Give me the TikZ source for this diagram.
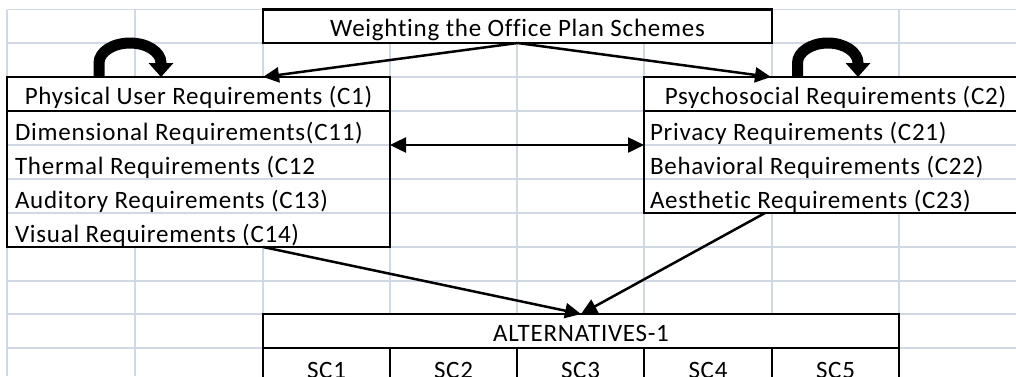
\documentclass[tikz,border=0pt]{standalone}
\usepackage{fontspec}
\setmainfont[LetterSpace=3,Ligatures={NoCommon}]{Carlito}
\usetikzlibrary{arrows.meta}
\definecolor{gridc}{HTML}{D0D7E5}
\begin{document}
\begin{tikzpicture}[x=1pt,y=-1pt,
  gridline/.style={draw=gridc, line width=1.5pt},
  cell/.style={draw=black, line width=2.5pt, fill=white, inner sep=0pt, outer sep=0pt, anchor=north west},
  lbl/.style={font=\fontsize{25}{29}\selectfont, inner sep=0pt, outer sep=0pt, anchor=base},
  lblL/.style={lbl, anchor=base west},
  conn/.style={line width=2.5pt, -{Triangle[length=16pt,width=15pt]}},
  bconn/.style={line width=2.5pt, {Triangle[length=16pt,width=15pt]}-{Triangle[length=16pt,width=15pt]}},
  loopc/.style={line width=11pt, -{Triangle[length=14pt,width=24pt]}}
]
\useasboundingbox (0,0) rectangle (1016,376);
\clip (0,0) rectangle (1016,376);
\fill[white] (0,0) rectangle (1016,376);
% spreadsheet grid
\foreach \x in {7,135,263,390,517,644,772,899} \draw[gridline] (\x,9.5) -- (\x,376);
\foreach \y in {9.5,43,77,111,145,179,213,247,281,314,348} \draw[gridline] (7,\y) -- (1016,\y);
% boxes
\node[cell, minimum width=509pt, minimum height=33.5pt] (W) at (263,9.5) {};
\node[cell, minimum width=383pt, minimum height=34pt] (P1) at (7,77) {};
\node[cell, minimum width=383pt, minimum height=136pt] (P2) at (7,111) {};
\node[cell, minimum width=383pt, minimum height=34pt] (Q1) at (644,77) {};
\node[cell, minimum width=383pt, minimum height=102pt] (Q2) at (644,111) {};
\node[cell, minimum width=636pt, minimum height=34pt] (A) at (263,314) {};
\node[cell, minimum width=127pt, minimum height=34pt] (S1) at (263,348) {};
\node[cell, minimum width=127pt, minimum height=34pt] (S2) at (390,348) {};
\node[cell, minimum width=127pt, minimum height=34pt] (S3) at (517,348) {};
\node[cell, minimum width=128pt, minimum height=34pt] (S4) at (644,348) {};
\node[cell, minimum width=127pt, minimum height=34pt] (S5) at (772,348) {};
% grid lines visible inside the merged rows
\foreach \y in {145,179,213} \draw[gridline] (8.25,\y) -- (388.75,\y);
\foreach \y in {145,179} \draw[gridline] (645.25,\y) -- (1016,\y);
% texts
\node[lbl] (tW) at (517.5,36) {Weighting the Office Plan Schemes};
\node[lbl] (tP) at (198.5,104) {Physical User Requirements (C1)};
\node[lbl] (tQ) at (835.5,104) {Psychosocial Requirements (C2)};
\node[lblL] (t11) at (15,140) {Dimensional Requirements(C11)};
\node[lblL] (t12) at (15,174) {Thermal Requirements (C12};
\node[lblL] (t13) at (15,208) {Auditory Requirements (C13)};
\node[lblL] (t14) at (15,242) {Visual Requirements (C14)};
\node[lblL] (t21) at (650,140) {Privacy Requirements (C21)};
\node[lblL] (t22) at (650,174) {Behavioral Requirements (C22)};
\node[lblL] (t23) at (650,208) {Aesthetic Requirements (C23)};
\node[lbl] (tA) at (581,341) {ALTERNATIVES-1};
\node[lbl] (tS1) at (326.5,378) {SC1};
\node[lbl] (tS2) at (453.5,378) {SC2};
\node[lbl] (tS3) at (580.5,378) {SC3};
\node[lbl] (tS4) at (708,378) {SC4};
\node[lbl] (tS5) at (835.5,378) {SC5};
% connector end points
\coordinate (c1) at (263,77);
\coordinate (c2) at (771,77);
\coordinate (b1) at (390,145);
\coordinate (b2) at (644,145);
\coordinate (d1) at (263,247);
\coordinate (d2) at (765,213);
\coordinate (l1a) at (99,77);
\coordinate (l1b) at (161,77);
\coordinate (l2a) at (797.5,77);
\coordinate (l2b) at (858,77);
% connectors
\draw[conn] (W.south) -- (c1);
\draw[conn] (W.south) -- (c2);
\draw[bconn] (b1) -- (b2);
\draw[conn] (d1) -- (A.north);
\draw[conn] (d2) -- (A.north);
\draw[loopc] (l1a) -- ++(0,-14) arc[start angle=180, end angle=360, x radius=31, y radius=20] -- (l1b);
\draw[loopc] (l2a) -- ++(0,-14) arc[start angle=180, end angle=360, x radius=30.25, y radius=20] -- (l2b);
\end{tikzpicture}
\end{document}
